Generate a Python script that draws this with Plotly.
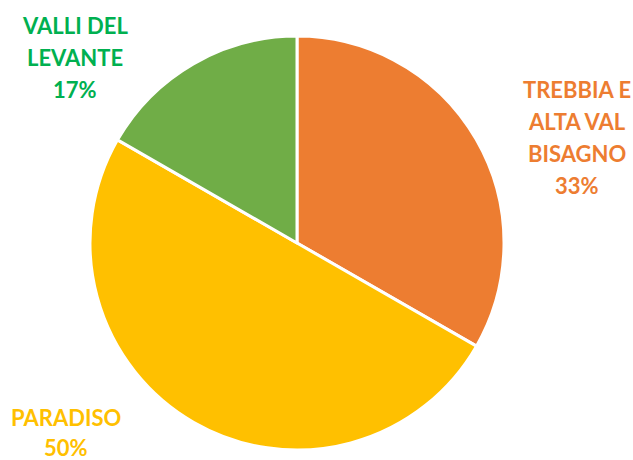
import plotly.graph_objects as go

categories = ["TREBBIA E ALTA VAL BISAGNO", "PARADISO", "VALLI DEL LEVANTE"]
label_lines = [["TREBBIA E", "ALTA VAL", "BISAGNO"], ["PARADISO"], ["VALLI DEL", "LEVANTE"]]
values = [33.3, 50.0, 16.7]
pct_labels = ["33%", "50%", "17%"]
slice_colors = ["#ED7D31", "#FFC000", "#70AD47"]
label_colors = ["#ED7D31", "#FFC000", "#00B050"]

W, H = 633, 460
# label block anchors (pixel centers of first line) and line spacing
label_pos = [(577, 89.5), (66, 417), (75, 25)]
line_gaps = [32, 30, 32]

fig = go.Figure()
fig.add_trace(go.Pie(
    labels=categories,
    values=values,
    sort=False,
    direction="clockwise",
    rotation=0,
    marker=dict(colors=slice_colors, line=dict(color="white", width=3)),
    textinfo="none",
    hoverinfo="label+percent",
    showlegend=False,
    domain=dict(x=[(297 - 207) / W, (297 + 207) / W], y=[(460 - 243 - 207) / H, (460 - 243 + 207) / H]),
))

annotations = []
for lines, pct, col, (px, py), gap in zip(label_lines, pct_labels, label_colors, label_pos, line_gaps):
    for i, t in enumerate(lines + [pct]):
        annotations.append(dict(
            x=px / W, y=1 - (py + i * gap) / H, xref="paper", yref="paper",
            text="<b>" + t + "</b>", showarrow=False, xanchor="center", yanchor="middle",
            font=dict(family="Lato", size=22, color=col, weight=900),
        ))

fig.update_layout(
    width=W, height=H,
    margin=dict(l=0, r=0, t=0, b=0),
    paper_bgcolor="white", plot_bgcolor="white",
    annotations=annotations,
)
fig.write_html("out.html")
